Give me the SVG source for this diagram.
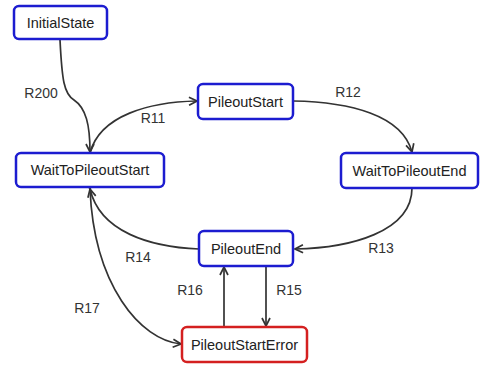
<svg xmlns="http://www.w3.org/2000/svg" width="480" height="365" viewBox="0 0 480 365">
<defs>
<style>
.box{fill:#fff;stroke:#1c1cd0;stroke-width:2.5}
.err{fill:#fff;stroke:#d42020;stroke-width:2.5}
.t{font-family:"Liberation Sans",Arial,sans-serif;font-size:14.5px;fill:#222;text-anchor:middle}
.lb{font-family:"Liberation Sans",Arial,sans-serif;font-size:14px;fill:#333;text-anchor:middle}
.e{fill:none;stroke:#333;stroke-width:1.7}
</style>
<marker id="a" viewBox="0 0 10 10" refX="9" refY="5" markerWidth="10" markerHeight="10" markerUnits="userSpaceOnUse" orient="auto">
<path d="M1,1 L9,5 L1,9" fill="none" stroke="#333" stroke-width="1.7"/>
</marker>
</defs>
<rect width="480" height="365" fill="#fff"/>
<g id="connectors">
<path class="e" d="M60,40 C62,80 64,94 74,100 C86,108 90,125 90,152" marker-end="url(#a)"/>
<path class="e" d="M90,153 C100,115 150,102 197,101" marker-end="url(#a)"/>
<path class="e" d="M293,101 C350,102 402,115 412,152" marker-end="url(#a)"/>
<path class="e" d="M412,188 C412,232 350,248 295,249" marker-end="url(#a)"/>
<path class="e" d="M199,249 C150,247 100,232 90,189" marker-end="url(#a)"/>
<path class="e" d="M90,189 C94,285 140,340 181,344" marker-end="url(#a)" marker-start="url(#a)"/>
<path class="e" d="M224,327 L224,267" marker-end="url(#a)"/>
<path class="e" d="M266,266 L266,326" marker-end="url(#a)"/>
<text class="lb" x="41" y="98">R200</text>
<text class="lb" x="153" y="123">R11</text>
<text class="lb" x="348" y="97">R12</text>
<text class="lb" x="381" y="253">R13</text>
<text class="lb" x="138" y="262">R14</text>
<text class="lb" x="190" y="295">R16</text>
<text class="lb" x="289" y="295">R15</text>
<text class="lb" x="87" y="313">R17</text>
</g>
<g id="InitialState"><rect class="box" x="14" y="6" width="93" height="33" rx="5"/><text class="t" x="60.5" y="28">InitialState</text></g>
<g id="WaitToPileoutStart"><rect class="box" x="16" y="153" width="148" height="34" rx="5"/><text class="t" x="90" y="175">WaitToPileoutStart</text></g>
<g id="PileoutStart"><rect class="box" x="198" y="84" width="95" height="35" rx="5"/><text class="t" x="245.5" y="106.5">PileoutStart</text></g>
<g id="WaitToPileoutEnd"><rect class="box" x="341" y="153" width="137" height="35" rx="5"/><text class="t" x="409.5" y="175.5">WaitToPileoutEnd</text></g>
<g id="PileoutEnd"><rect class="box" x="199" y="231" width="94" height="35" rx="5"/><text class="t" x="246" y="253.5">PileoutEnd</text></g>
<g id="PileoutStartError"><rect class="err" x="182" y="327" width="125" height="35" rx="5"/><text class="t" x="244.5" y="349.5">PileoutStartError</text></g>
</svg>
